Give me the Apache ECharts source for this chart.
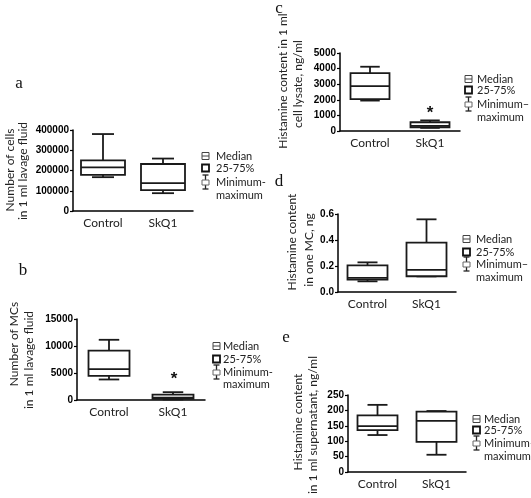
<!DOCTYPE html>
<html><head><meta charset="utf-8">
<script src="https://cdn.jsdelivr.net/npm/echarts@6/dist/echarts.min.js"></script>
<style>html,body{margin:0;padding:0;background:#fff}#c{width:531px;height:498px}</style>
</head><body><div id="c"></div><script>
// ---- data ----
const categories = ['Control', 'SkQ1'];
// each array: [minimum, Q1 (25%), median, Q3 (75%), maximum]
const cellsControl = [167000, 178000, 215000, 250000, 380000];
const cellsSkQ1    = [88000, 103000, 138000, 232000, 259000];
const mcsControl   = [3800, 4450, 5700, 9150, 11150];
const mcsSkQ1      = [100, 200, 450, 1000, 1450];
const lysateControl = [1950, 2040, 2880, 3710, 4120];
const lysateSkQ1    = [200, 240, 330, 560, 680];
const perMcControl = [0.082, 0.095, 0.108, 0.205, 0.228];
const perMcSkQ1    = [0.12, 0.121, 0.17, 0.38, 0.559];
const supControl = [120, 136, 149, 184, 218];
const supSkQ1    = [56, 98, 166, 196, 198];
// y axis ranges / tick steps
const yMaxA = 400000, yStepA = 100000;
const yMaxB = 15000,  yStepB = 5000;
const yMaxC = 5000,   yStepC = 1000;
const yMaxD = 0.6,    yStepD = 0.2;
const yMaxE = 250,    yStepE = 50;
const titleA = ['Number of cells', 'in 1 ml lavage fluid'];
const titleB = ['Number of MCs', 'in 1 ml lavage fluid'];
const titleC = ['Histamine content in 1 ml', 'cell lysate, ng/ml'];
const titleD = ['Histamine content', 'in one MC, ng'];
const titleE = ['Histamine content', 'in 1 ml supernatant, ng/ml'];
const legendLabels = ['Median', '25-75%', 'Minimum\u2013', 'maximum'];
const legendLabelsAB = ['Median', '25-75%', 'Minimum-', 'maximum'];

// ---- layout ----
const panels = [
  {letter:'a', lx:19, ly:84, grid:{left:73, top:130, width:120, height:81}, yMax:yMaxA, step:yStepA, dec:0, ctrl:cellsControl, skq:cellsSkQ1, boxW:44,
   title:titleA, t1:[10,170], t2:[23,171], leg:{x:202, tx:216, ys:[156,168,182,195]}, labels:legendLabelsAB},
  {letter:'b', lx:23, ly:271, grid:{left:77, top:319, width:128, height:81}, yMax:yMaxB, step:yStepB, dec:0, ctrl:mcsControl, skq:mcsSkQ1, boxW:41,
   title:titleB, t1:[14,344], t2:[29,360], leg:{x:213, tx:223, ys:[346,359,372,384]}, labels:legendLabelsAB, star:[174,379]},
  {letter:'c', lx:279, ly:9, grid:{left:340, top:53, width:120, height:78}, yMax:yMaxC, step:yStepC, dec:0, ctrl:lysateControl, skq:lysateSkQ1, boxW:39,
   title:titleC, t1:[283,81], t2:[298,84], leg:{x:465, tx:477, ys:[79,90,104,117]}, labels:legendLabels, star:[430,113]},
  {letter:'d', lx:279, ly:182, grid:{left:338, top:214, width:118, height:78}, yMax:yMaxD, step:yStepD, dec:1, ctrl:perMcControl, skq:perMcSkQ1, boxW:40,
   title:titleD, t1:[292,242], t2:[309,250], leg:{x:463, tx:476, ys:[239,252,264,277]}, labels:legendLabels},
  {letter:'e', lx:286, ly:338, grid:{left:348, top:395, width:118, height:77}, yMax:yMaxE, step:yStepE, dec:0, ctrl:supControl, skq:supSkQ1, boxW:40,
   title:titleE, t1:[298,422], t2:[313,425], leg:{x:473, tx:484, ys:[419,430,443,456]}, labels:legendLabels}
];

const LINE = '#1a1a1a';
function makeRender(boxW){
  return function(params, api){
    const x = api.value(0);
    const vals = [1,2,3,4,5].map(i => api.value(i));
    const pts = vals.map(v => api.coord([x, v]));
    const cx = pts[0][0];
    const y = pts.map(p => p[1]);
    const hw = boxW/2, cw = boxW/4;
    const ls = {stroke: LINE, lineWidth: 1.8};
    return {type:'group', children:[
      {type:'line', shape:{x1:cx, y1:y[3], x2:cx, y2:y[4]}, style:ls},
      {type:'line', shape:{x1:cx-cw, y1:y[4], x2:cx+cw, y2:y[4]}, style:ls},
      {type:'line', shape:{x1:cx, y1:y[1], x2:cx, y2:y[0]}, style:ls},
      {type:'line', shape:{x1:cx-cw, y1:y[0], x2:cx+cw, y2:y[0]}, style:ls},
      {type:'rect', shape:{x:cx-hw, y:y[3], width:boxW, height:y[1]-y[3]}, style:{stroke:LINE, lineWidth:1.8, fill:'#fff'}},
      {type:'line', shape:{x1:cx-hw, y1:y[2], x2:cx+hw, y2:y[2]}, style:ls}
    ]};
  };
}

const grids = [], xAxes = [], yAxes = [], series = [], graphics = [];
const SANS = 'Lato, "Open Sans", sans-serif';
panels.forEach((p, i) => {
  grids.push(Object.assign({containLabel:false}, p.grid));
  xAxes.push({type:'category', gridIndex:i, data:categories,
    axisLine:{lineStyle:{color:'#000', width:1.5}},
    axisTick:{alignWithLabel:true, length:3, lineStyle:{color:'#000', width:1.2}},
    axisLabel:{color:'#222', fontFamily:SANS, fontSize:12, margin:6}});
  yAxes.push({type:'value', gridIndex:i, min:0, max:p.yMax, interval:p.step,
    splitLine:{show:false},
    axisLine:{show:true, lineStyle:{color:'#000', width:1.5}},
    axisTick:{show:true, length:3, lineStyle:{color:'#000', width:1.2}},
    axisLabel:{color:'#000', fontFamily:'"Liberation Sans", Arial, sans-serif', fontWeight:'bold', fontSize:10, margin:4,
      formatter: v => p.dec ? v.toFixed(p.dec) : String(v)}});
  series.push({type:'custom', xAxisIndex:i, yAxisIndex:i, renderItem:makeRender(p.boxW),
    encode:{x:0, y:[1,2,3,4,5]},
    data:[[0].concat(p.ctrl), [1].concat(p.skq)], silent:true});
  // panel letter
  graphics.push({type:'text', x:p.lx, y:p.ly, style:{text:p.letter, font:'17px "Liberation Serif", serif', fill:'#111', textAlign:'center', textVerticalAlign:'middle'}});
  // y axis titles
  graphics.push({type:'text', x:p.t1[0], y:p.t1[1], rotation:Math.PI/2, style:{text:p.title[0], font:'12px ' + SANS, fill:'#222', textAlign:'center', textVerticalAlign:'middle'}});
  graphics.push({type:'text', x:p.t2[0], y:p.t2[1], rotation:Math.PI/2, style:{text:p.title[1], font:'12px ' + SANS, fill:'#222', textAlign:'center', textVerticalAlign:'middle'}});
  // legend
  const L = p.leg, ys = L.ys;
  p.labels.forEach((t, k) => {
    graphics.push({type:'text', x:L.tx, y:ys[k], style:{text:t, font:'11px ' + SANS, fill:'#222', textAlign:'left', textVerticalAlign:'middle'}});
  });
  const ix = L.x;
  graphics.push({type:'rect', shape:{x:ix, y:ys[0]-3.5, width:7, height:7}, style:{stroke:'#444', lineWidth:1, fill:'#fff'}});
  graphics.push({type:'line', shape:{x1:ix, y1:ys[0], x2:ix+7, y2:ys[0]}, style:{stroke:'#444', lineWidth:1}});
  graphics.push({type:'rect', shape:{x:ix, y:ys[1]-3.5, width:7, height:7}, style:{stroke:'#111', lineWidth:1.8, fill:'#fff'}});
  const my = ys[2];
  graphics.push({type:'line', shape:{x1:ix+3.5, y1:my-7, x2:ix+3.5, y2:my+7}, style:{stroke:'#222', lineWidth:1.3}});
  graphics.push({type:'line', shape:{x1:ix+0.5, y1:my-7, x2:ix+6.5, y2:my-7}, style:{stroke:'#222', lineWidth:1.3}});
  graphics.push({type:'line', shape:{x1:ix+0.5, y1:my+7, x2:ix+6.5, y2:my+7}, style:{stroke:'#222', lineWidth:1.3}});
  graphics.push({type:'rect', shape:{x:ix, y:my-2, width:7, height:5}, style:{stroke:'#666', lineWidth:1, fill:'#fff'}});
  if (p.star) {
    graphics.push({type:'text', x:p.star[0], y:p.star[1], style:{text:'*', font:'bold 17px "Liberation Sans", Arial, sans-serif', fill:'#111', textAlign:'center', textVerticalAlign:'middle'}});
  }
});

const chart = echarts.init(document.getElementById('c'), null, {renderer:'canvas'});
chart.setOption({animation:false, backgroundColor:'#fff', grid:grids, xAxis:xAxes, yAxis:yAxes, series:series, graphic:graphics});
</script></body></html>
